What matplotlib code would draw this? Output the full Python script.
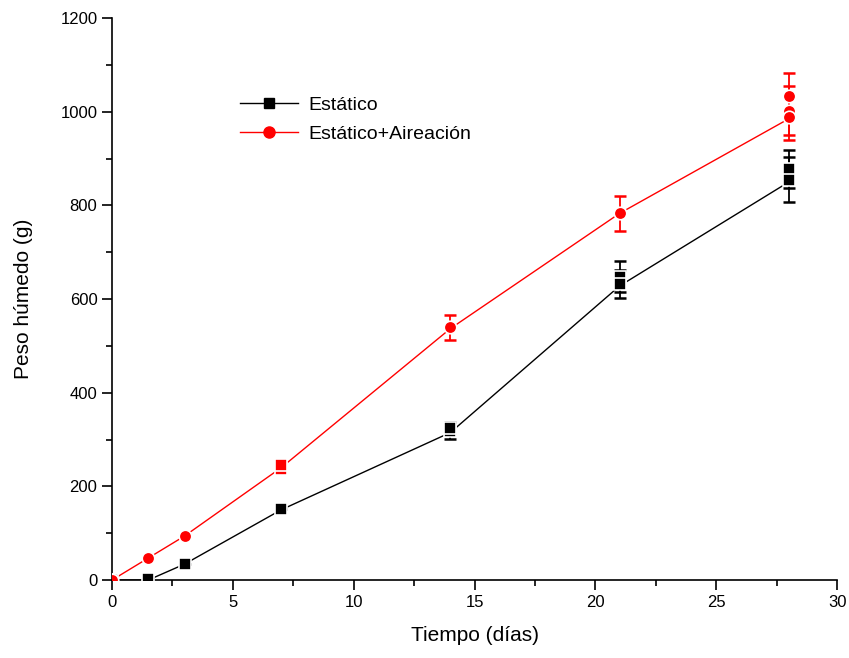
import numpy as np
import matplotlib
matplotlib.use("Agg")
import matplotlib.pyplot as plt
from matplotlib.ticker import MultipleLocator

plt.rcParams['font.family'] = ['Liberation Sans', 'DejaVu Sans']

# mean curves (line)
dias = [0, 1.5, 3, 7, 14, 21, 28]
estatico_linea = [0, 0, 34, 150, 315, 628, 850]
aire_linea = [0, 47, 94, 240, 537, 783, 985]

# replicate points with error bars
est_x = [0, 1.5, 3, 7, 14, 14, 21, 21, 28, 28]
est_y = [0, 3, 34, 152, 318, 325, 648, 632, 878, 855]
est_err = [0, 0, 0, 0, 17, 12, 33, 30, 40, 48]

aire_x = [0, 1.5, 3, 14, 21, 28, 28, 28]
aire_y = [0, 47, 94, 540, 783, 1034, 1002, 988]
aire_err = [0, 0, 0, 27, 38, 48, 52, 48]
aire_sq_x = [7, 7]
aire_sq_y = [238, 246]

fig = plt.figure(figsize=(8.49, 6.58), dpi=100)
ax = fig.add_axes([0.132, 0.1185, 0.854, 0.854])

ax.plot(dias, estatico_linea, color='black', lw=1, zorder=1)
ax.plot(dias, aire_linea, color='red', lw=1, zorder=1)

ax.errorbar(est_x, est_y, yerr=est_err, fmt='none', ecolor='black',
            elinewidth=1.3, capsize=4.5, capthick=1.8, zorder=2)
ax.plot(est_x, est_y, 's', color='black', ms=8.5, mec='white', mew=1.2, zorder=3)

ax.errorbar(aire_x, aire_y, yerr=aire_err, fmt='none', ecolor='red',
            elinewidth=1.3, capsize=4.5, capthick=1.8, zorder=2)
ax.plot(aire_x, aire_y, 'o', color='red', ms=9, mec='white', mew=1.2, zorder=3)
ax.plot(aire_sq_x, aire_sq_y, 's', color='red', ms=9, mec='white', mew=1.2, zorder=3)

# legend proxies
ax.plot([], [], '-s', color='black', ms=7, lw=1, label='Estático')
ax.plot([], [], '-o', color='red', ms=8, lw=1, label='Estático+Aireación')
h, l = ax.get_legend_handles_labels()
ax.legend(h[-2:], l[-2:], loc='upper left', bbox_to_anchor=(0.152, 0.892),
          frameon=False, fontsize=14, handlelength=3.0, handletextpad=0.55,
          labelspacing=0.6)

ax.set_xlim(0, 30)
ax.set_ylim(0, 1200)
ax.xaxis.set_major_locator(MultipleLocator(5))
ax.xaxis.set_minor_locator(MultipleLocator(2.5))
ax.yaxis.set_major_locator(MultipleLocator(200))
ax.yaxis.set_minor_locator(MultipleLocator(100))
ax.tick_params(which='major', direction='out', length=7, width=1.2, labelsize=12)
ax.tick_params(which='minor', direction='out', length=4, width=1.2)

ax.spines['top'].set_visible(False)
ax.spines['right'].set_visible(False)
ax.spines['left'].set_linewidth(1.2)
ax.spines['bottom'].set_linewidth(1.2)

ax.set_xlabel('Tiempo (días)', fontsize=15, labelpad=12)
ax.set_ylabel('Peso húmedo (g)', fontsize=15, labelpad=20)

fig.savefig('out.png', dpi=100)
